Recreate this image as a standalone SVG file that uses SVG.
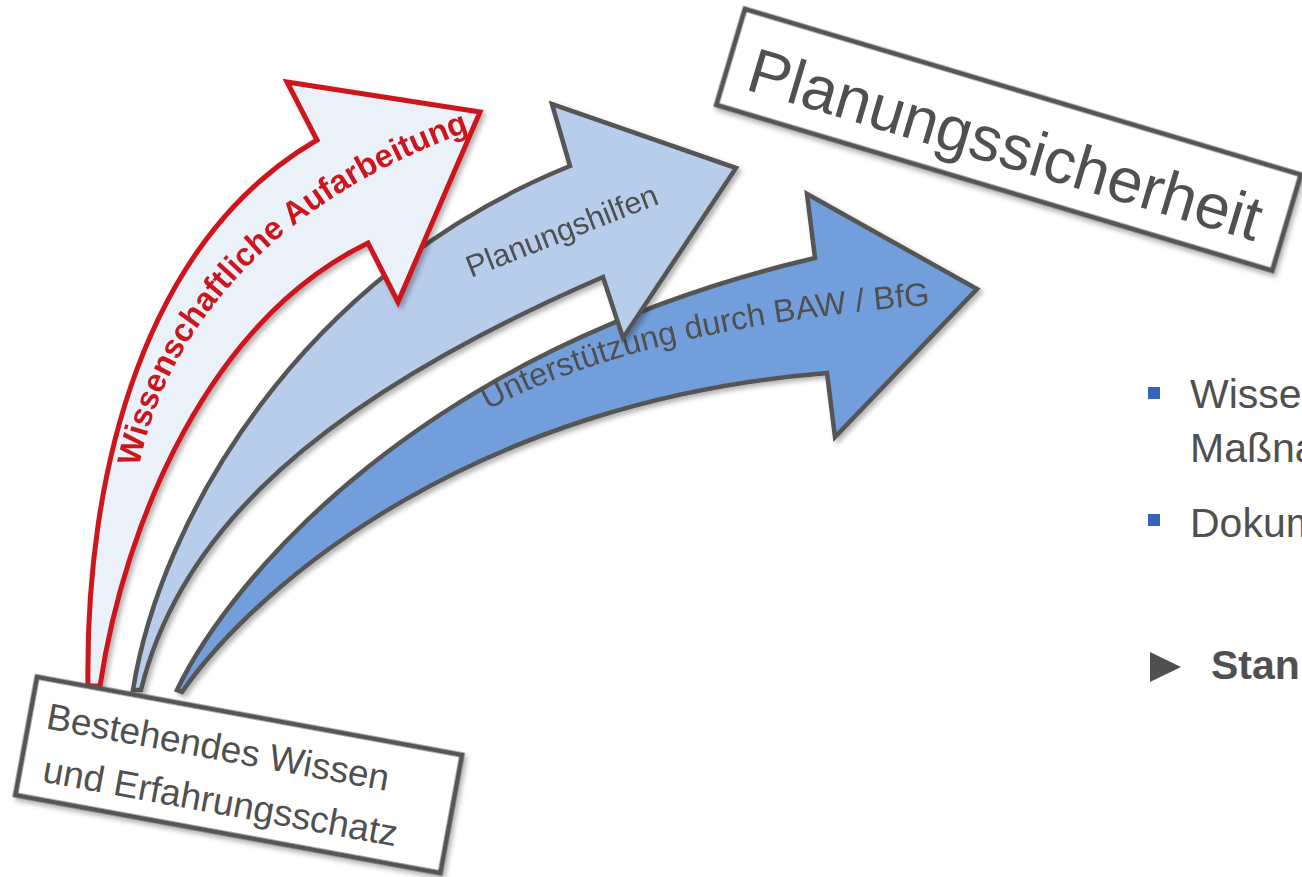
<svg xmlns="http://www.w3.org/2000/svg" width="1302" height="877" viewBox="0 0 1302 877">
<style>
.txt{font-family:"Liberation Sans",Arial,sans-serif;fill:#505050}
.arr{stroke-linejoin:miter;stroke-miterlimit:8}
.box{fill:#fff;stroke:#555;stroke-width:5}
</style>
<defs>
<filter id="sh" x="-10%" y="-10%" width="130%" height="130%">
<feDropShadow dx="3" dy="3" stdDeviation="2.5" flood-color="#000" flood-opacity="0.3"/>
</filter>
<path id="pRed" d="M 139,467 C 163,341 263,201 482,127"/>
<path id="pBlue" d="M 488,410 C 600,350 760,318 940,304"/>
</defs>
<rect width="1302" height="877" fill="#fff"/>
<g id="connectors">
<g id="arrow-baw" filter="url(#sh)">
<path class="arr" d="M 177,690 C 230,580 420,350 815,258 L 807,194 L 977,289 L 835,437 L 827,373 C 480,400 260,580 182,692 Z" fill="#729fdb" stroke="#555" stroke-width="4.5"/>
<text class="txt" font-size="32.5"><textPath href="#pBlue">Unterstützung durch BAW / BfG</textPath></text>
</g>
<g id="arrow-hilfen" filter="url(#sh)">
<path class="arr" d="M 133,690 C 160,520 300,275 570,166 L 552,104 L 736,168 L 623,338 L 603,277 C 320,400 180,530 141,690 Z" fill="#b7cdeb" stroke="#555" stroke-width="4.5"/>
<text class="txt" font-size="31" transform="translate(471,278) rotate(-21.5)">Planungshilfen</text>
</g>
<g id="arrow-wiss" filter="url(#sh)">
<path class="arr" d="M 88,686 C 85,470 145,240 317,140 L 287,82 L 480,112 L 398,302 L 368,243 C 210,320 125,520 100,686 Z" fill="#eaf1f9" stroke="#cc171e" stroke-width="5"/>
<text font-family="Liberation Sans,Arial,sans-serif" font-weight="bold" font-size="32.5" fill="#cc171e"><textPath href="#pRed">Wissenschaftliche Aufarbeitung</textPath></text>
</g>
</g>
<g id="node-bestehend" transform="translate(238.7,775) rotate(10.4)">
<rect class="box" x="-216" y="-60" width="432" height="120" filter="url(#sh)"/>
<text class="txt" font-size="37" x="-199" y="-11">Bestehendes Wissen</text>
<text class="txt" font-size="37" x="-193" y="42">und Erfahrungsschatz</text>
</g>
<g id="node-sicherheit" transform="translate(1008.6,139.8) rotate(16.6)">
<rect class="box" x="-290" y="-50" width="580" height="100" filter="url(#sh)"/>
<text class="txt" font-size="63" x="-268" y="27">Planungssicherheit</text>
</g>
<g id="bullets">
<rect x="1148" y="387" width="12" height="12" fill="#3465b6"/>
<text class="txt" font-size="41" x="1190" y="408">Wisse</text>
<text class="txt" font-size="41" x="1190" y="462">Maßna</text>
<rect x="1148" y="514" width="12" height="12" fill="#3465b6"/>
<text class="txt" font-size="41" x="1190" y="537">Dokum</text>
<path d="M 1150,652 L 1181,667 L 1150,682 Z" fill="#505050"/>
<text class="txt" font-size="41" font-weight="bold" x="1211" y="679">Stan</text>
</g>
</svg>
